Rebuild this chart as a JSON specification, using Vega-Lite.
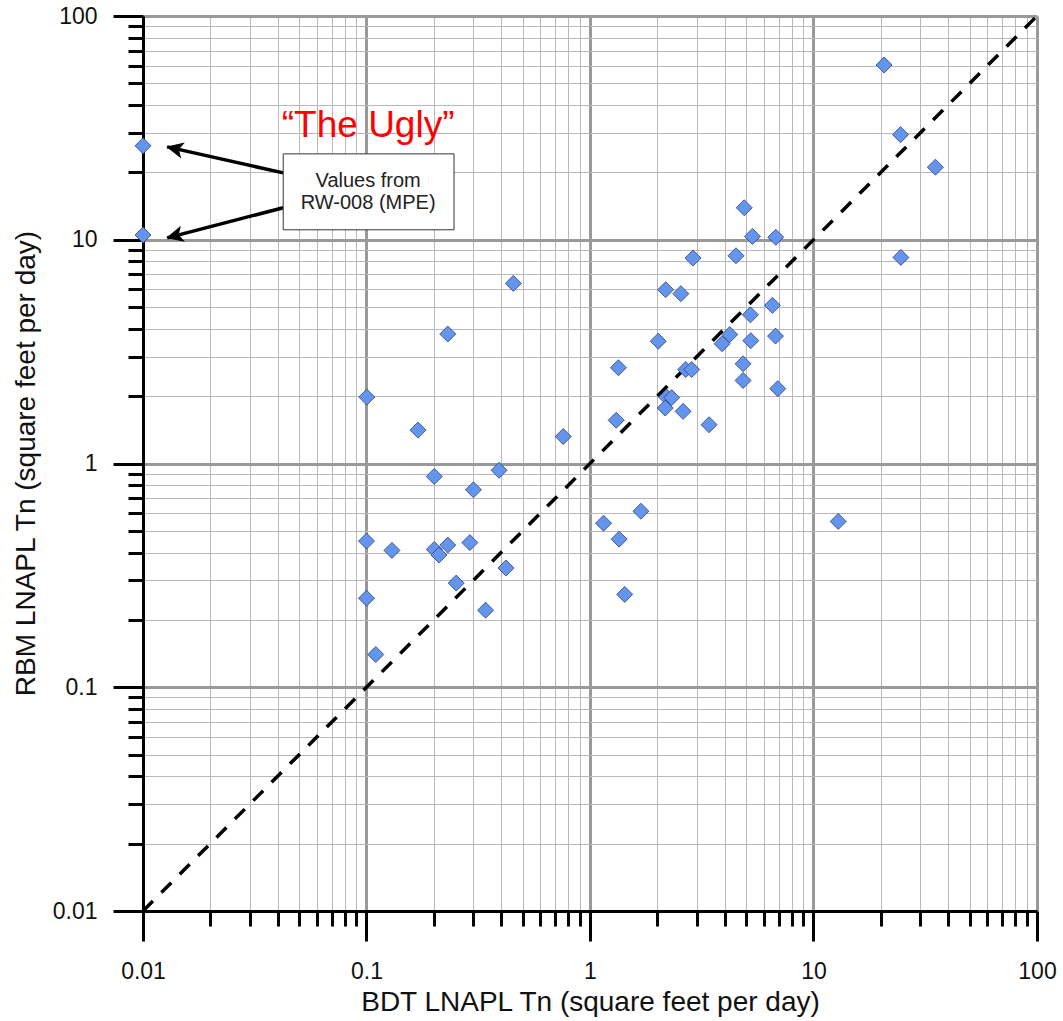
{
  "$schema": "https://vega.github.io/schema/vega-lite/v6.json",
  "width": 894,
  "height": 895,
  "autosize": "none",
  "padding": {"left": 143, "top": 16, "right": 26, "bottom": 110},
  "background": "white",
  "config": {"view": {"stroke": null}},
  "datasets": {
    "points": [
      {"x": 0.01, "y": 26.3}, {"x": 0.01, "y": 10.5}, {"x": 20.7, "y": 60.4}, {"x": 24.5, "y": 29.5},
      {"x": 35.1, "y": 21.1}, {"x": 24.6, "y": 8.34}, {"x": 4.9, "y": 13.9}, {"x": 5.33, "y": 10.35},
      {"x": 6.78, "y": 10.26}, {"x": 2.89, "y": 8.28}, {"x": 4.5, "y": 8.48}, {"x": 0.454, "y": 6.38},
      {"x": 2.18, "y": 5.98}, {"x": 2.55, "y": 5.74}, {"x": 6.55, "y": 5.09}, {"x": 5.22, "y": 4.62},
      {"x": 0.231, "y": 3.79}, {"x": 4.22, "y": 3.77}, {"x": 3.9, "y": 3.43}, {"x": 2.02, "y": 3.52},
      {"x": 5.24, "y": 3.54}, {"x": 6.76, "y": 3.71}, {"x": 1.34, "y": 2.68}, {"x": 2.68, "y": 2.63},
      {"x": 2.85, "y": 2.63}, {"x": 4.84, "y": 2.79}, {"x": 4.84, "y": 2.35}, {"x": 6.92, "y": 2.16},
      {"x": 0.1003, "y": 1.98}, {"x": 2.2, "y": 1.98}, {"x": 2.32, "y": 1.97}, {"x": 2.17, "y": 1.77},
      {"x": 2.61, "y": 1.71}, {"x": 3.41, "y": 1.49}, {"x": 0.17, "y": 1.41}, {"x": 1.31, "y": 1.56},
      {"x": 0.759, "y": 1.32}, {"x": 0.201, "y": 0.875}, {"x": 0.392, "y": 0.933}, {"x": 0.301, "y": 0.763},
      {"x": 0.1, "y": 0.45}, {"x": 0.13, "y": 0.409}, {"x": 0.201, "y": 0.413}, {"x": 0.211, "y": 0.39},
      {"x": 0.231, "y": 0.432}, {"x": 0.29, "y": 0.443}, {"x": 0.421, "y": 0.341}, {"x": 0.252, "y": 0.292},
      {"x": 0.341, "y": 0.221}, {"x": 0.1, "y": 0.25}, {"x": 0.11, "y": 0.14}, {"x": 1.69, "y": 0.612},
      {"x": 1.15, "y": 0.541}, {"x": 1.35, "y": 0.459}, {"x": 1.43, "y": 0.26}, {"x": 12.9, "y": 0.551}
    ],
    "oneToOne": [{"x": 0.01, "y": 0.01}, {"x": 100, "y": 100}],
    "arrows": [
      {"id": 1, "x": 0.0424, "y": 19.9}, {"id": 1, "x": 0.01284, "y": 26.0},
      {"id": 2, "x": 0.0424, "y": 13.9}, {"id": 2, "x": 0.01284, "y": 10.2}
    ],
    "arrowTips": [{"id": 1, "x": 0.01284, "y": 26.0}, {"id": 2, "x": 0.01284, "y": 10.2}],
    "box": [{"x": 0.0424, "x2": 0.2464, "y": 24.2, "y2": 11.08}],
    "boxText": [
      {"x": 0.1017, "y": 18.3, "text": "Values from"},
      {"x": 0.1017, "y": 14.6, "text": "RW-008 (MPE)"}
    ],
    "ugly": [{"x": 0.1017, "y": 28.83, "text": "“The Ugly”"}]
  },
  "encoding": {
    "x": {
      "field": "x",
      "type": "quantitative",
      "scale": {"type": "log", "domain": [0.01, 100], "nice": false},
      "axis": {
        "title": "BDT LNAPL Tn (square feet per day)",
        "values": [0.01, 0.02, 0.03, 0.04, 0.05, 0.06, 0.07, 0.08, 0.09, 0.1, 0.2, 0.3, 0.4, 0.5, 0.6, 0.7, 0.8, 0.9, 1, 2, 3, 4, 5, 6, 7, 8, 9, 10, 20, 30, 40, 50, 60, 70, 80, 90, 100],
        "labelExpr": "abs(log(datum.value)/LN10 - round(log(datum.value)/LN10)) < 0.001 ? format(datum.value, '~g') : ''",
        "labelOverlap": false,
        "labelFlush": false,
        "labelFont": "Liberation Sans",
        "labelFontSize": 23,
        "labelColor": "#111111",
        "labelPadding": 19,
        "tickColor": "black",
        "tickWidth": 3,
        "tickSize": {"condition": {"test": "abs(log(datum.value)/LN10 - round(log(datum.value)/LN10)) < 0.001", "value": 30}, "value": 15},
        "domainColor": "black",
        "domainWidth": 3,
        "grid": true,
        "gridColor": {"condition": {"test": "abs(log(datum.value)/LN10 - round(log(datum.value)/LN10)) < 0.001", "value": "#999999"}, "value": "#b8b8b8"},
        "gridWidth": {"condition": {"test": "abs(log(datum.value)/LN10 - round(log(datum.value)/LN10)) < 0.001", "value": 3}, "value": 1},
        "titleFont": "Liberation Sans",
        "titleFontSize": 28,
        "titleFontWeight": "normal",
        "titleColor": "#111111",
        "titleBaseline": "alphabetic",
        "titleY": 99
      }
    },
    "y": {
      "field": "y",
      "type": "quantitative",
      "scale": {"type": "log", "domain": [0.01, 100], "nice": false},
      "axis": {
        "title": "RBM LNAPL Tn (square feet per day)",
        "values": [0.01, 0.02, 0.03, 0.04, 0.05, 0.06, 0.07, 0.08, 0.09, 0.1, 0.2, 0.3, 0.4, 0.5, 0.6, 0.7, 0.8, 0.9, 1, 2, 3, 4, 5, 6, 7, 8, 9, 10, 20, 30, 40, 50, 60, 70, 80, 90, 100],
        "labelExpr": "abs(log(datum.value)/LN10 - round(log(datum.value)/LN10)) < 0.001 ? format(datum.value, '~g') : ''",
        "labelOverlap": false,
        "labelFlush": false,
        "labelFont": "Liberation Sans",
        "labelFontSize": 23,
        "labelColor": "#111111",
        "labelPadding": 16,
        "tickColor": "black",
        "tickWidth": 3,
        "tickSize": {"condition": {"test": "abs(log(datum.value)/LN10 - round(log(datum.value)/LN10)) < 0.001", "value": 30}, "value": 15},
        "domainColor": "black",
        "domainWidth": 3,
        "grid": true,
        "gridColor": {"condition": {"test": "abs(log(datum.value)/LN10 - round(log(datum.value)/LN10)) < 0.001", "value": "#999999"}, "value": "#b8b8b8"},
        "gridWidth": {"condition": {"test": "abs(log(datum.value)/LN10 - round(log(datum.value)/LN10)) < 0.001", "value": 3}, "value": 1},
        "titleFont": "Liberation Sans",
        "titleFontSize": 28,
        "titleFontWeight": "normal",
        "titleColor": "#111111",
        "titleAngle": -90,
        "titleBaseline": "alphabetic",
        "titleX": -109,
        "titleY": 447
      }
    }
  },
  "layer": [
    {
      "data": {"name": "oneToOne"},
      "mark": {"type": "line", "color": "black", "strokeWidth": 3.5, "strokeDash": [14, 12], "clip": true}
    },
    {
      "data": {"name": "points"},
      "mark": {"type": "point", "shape": "diamond", "filled": true, "size": 256, "fill": "#6495ED", "stroke": "#2E3F7A", "strokeWidth": 0.8, "opacity": 1}
    },
    {
      "data": {"name": "arrows"},
      "mark": {"type": "line", "color": "black", "strokeWidth": 3.5},
      "encoding": {"detail": {"field": "id", "type": "nominal"}}
    },
    {
      "data": {"name": "arrowTips"},
      "mark": {"type": "point", "shape": "M 0 0 L -2 -0.95 L -1.5 0 L -2 0.95 Z", "filled": true, "fill": "black", "stroke": "black", "strokeWidth": 1, "size": 225, "opacity": 1},
      "encoding": {
        "angle": {"condition": {"test": "datum.id == 1", "value": 192.6}, "value": 165.5}
      }
    },
    {
      "data": {"name": "box"},
      "mark": {"type": "rect", "fill": "white", "stroke": "#333333", "strokeWidth": 1},
      "encoding": {
        "x2": {"field": "x2"},
        "y2": {"field": "y2"}
      }
    },
    {
      "data": {"name": "boxText"},
      "mark": {"type": "text", "font": "Liberation Sans", "fontSize": 20, "align": "center", "baseline": "middle", "color": "#222222"},
      "encoding": {"text": {"field": "text", "type": "nominal"}}
    },
    {
      "data": {"name": "ugly"},
      "mark": {"type": "text", "font": "Liberation Sans", "fontSize": 37, "align": "center", "baseline": "alphabetic", "color": "#FF0000"},
      "encoding": {"text": {"field": "text", "type": "nominal"}}
    }
  ]
}
